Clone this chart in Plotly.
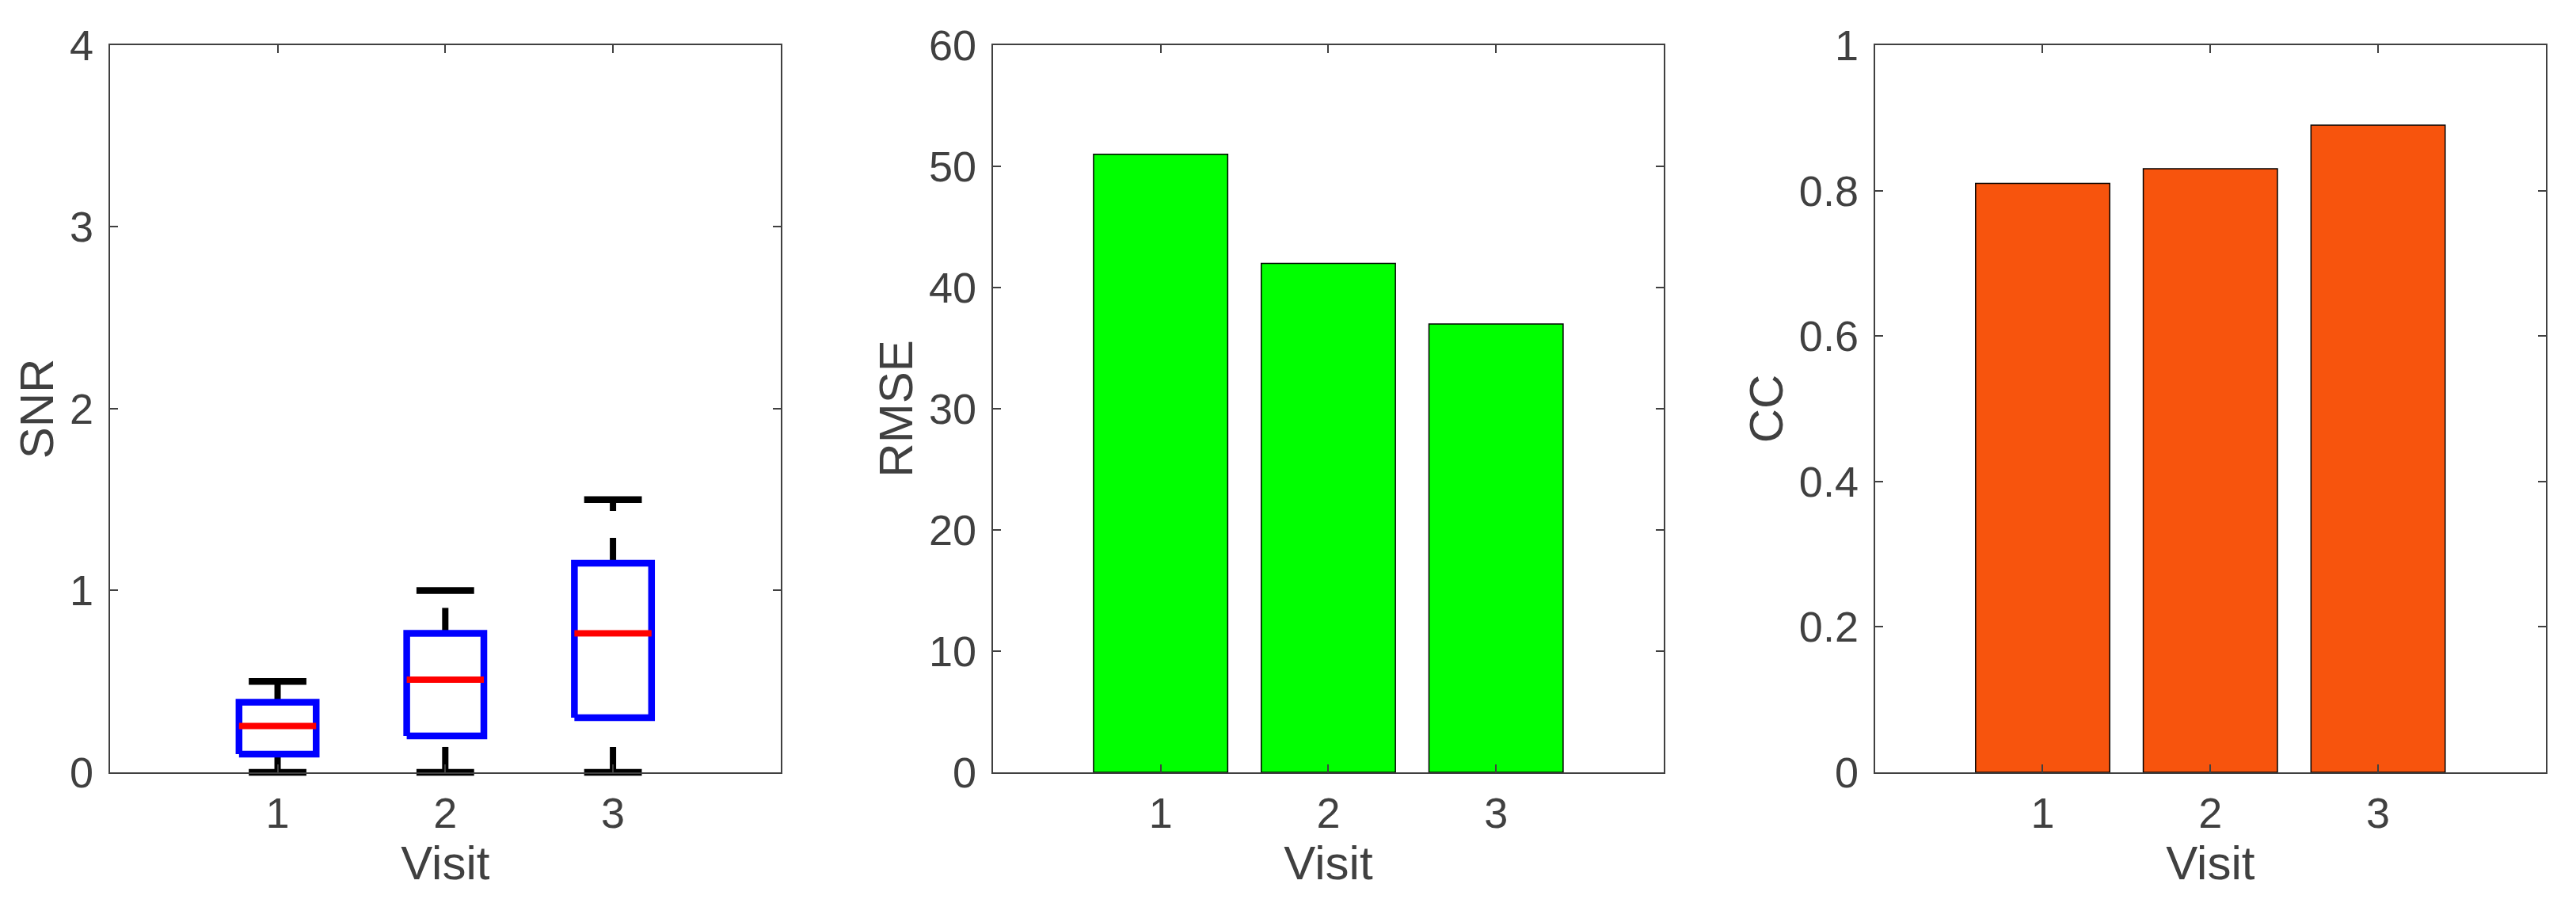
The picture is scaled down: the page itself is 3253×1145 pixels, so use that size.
import plotly.graph_objects as go

visits = [1, 2, 3]

# SNR box statistics per visit
snr_low = [0.0, 0.0, 0.0]
snr_q1 = [0.10, 0.20, 0.30]
snr_median = [0.255, 0.51, 0.765]
snr_q3 = [0.385, 0.765, 1.15]
snr_high = [0.50, 1.00, 1.50]

rmse = [51, 42, 37]
cc = [0.81, 0.83, 0.89]

AXIS_COLOR = "#404040"
FONT = "Liberation Sans, Arial, sans-serif"
BOX_HALF = 0.23


def box_paths(q1, q3, med, half=BOX_HALF):
    bx, by, mx, my = [], [], [], []
    for v, lo, hi, m in zip(visits, q1, q3, med):
        bx += [v - half, v + half, v + half, v - half, v - half, None]
        by += [lo, lo, hi, hi, lo, None]
        mx += [v - half, v + half, None]
        my += [m, m, None]
    return bx, by, mx, my


def whisker_paths(low, q1, q3, high):
    wx, wy = [], []
    for v, a, b, c, d in zip(visits, low, q1, q3, high):
        wx += [v, v, None, v, v, None]
        wy += [a, b, None, c, d, None]
    return wx, wy


fig = go.Figure()

wx, wy = whisker_paths(snr_low, snr_q1, snr_q3, snr_high)
fig.add_trace(go.Scatter(x=wx, y=wy, mode="lines", xaxis="x", yaxis="y",
                         line=dict(color="black", width=8, dash="32px,34px"),
                         hoverinfo="skip"))
fig.add_trace(go.Scatter(x=visits + visits, y=snr_low + snr_high, mode="markers",
                         xaxis="x", yaxis="y", cliponaxis=False,
                         marker=dict(symbol="line-ew", size=52,
                                     line=dict(color="black", width=8.5)),
                         hoverinfo="skip"))
bx, by, mx, my = box_paths(snr_q1, snr_q3, snr_median)
fig.add_trace(go.Scatter(x=bx, y=by, mode="lines", xaxis="x", yaxis="y",
                         line=dict(color="#0000FF", width=8.5)))
fig.add_trace(go.Scatter(x=mx, y=my, mode="lines", xaxis="x", yaxis="y",
                         line=dict(color="#FF0000", width=8)))

fig.add_trace(go.Bar(x=visits, y=rmse, width=0.8, xaxis="x2", yaxis="y2",
                     marker=dict(color="#00FF00", line=dict(color="black", width=1.5))))
fig.add_trace(go.Bar(x=visits, y=cc, width=0.8, xaxis="x3", yaxis="y3",
                     marker=dict(color="#F7540D", line=dict(color="black", width=1.5))))

common = dict(showline=True, linecolor=AXIS_COLOR, linewidth=2, mirror="allticks",
              ticks="inside", ticklen=10, tickwidth=2, tickcolor=AXIS_COLOR,
              showgrid=False, zeroline=False, automargin=False,
              tickfont=dict(family=FONT, size=54, color=AXIS_COLOR))

# page body adds an ~8px offset, domains compensate for it
x_domains = [[0.0402, 0.3006], [0.3830, 0.6434], [0.7254, 0.9858]]
y_domain = [0.1555, 0.9572]
y_titles = ["SNR", "RMSE", "CC"]
y_ranges = [[0, 4], [0, 60], [0, 1]]
y_dticks = [1, 10, 0.2]

layout = dict(width=3253, height=1145, margin=dict(l=0, r=0, t=0, b=0),
              plot_bgcolor="white", paper_bgcolor="white", showlegend=False,
              font=dict(family=FONT, color=AXIS_COLOR))
for i in range(3):
    sfx = "" if i == 0 else str(i + 1)
    layout["xaxis" + sfx] = dict(common, domain=x_domains[i], range=[0, 4],
                                 tickvals=visits, anchor="y" + sfx,
                                 ticklabelstandoff=3,
                                 title=dict(text="Visit", standoff=13,
                                            font=dict(family=FONT, size=60, color=AXIS_COLOR)))
    layout["yaxis" + sfx] = dict(common, domain=y_domain, range=y_ranges[i],
                                 dtick=y_dticks[i], tick0=0, anchor="x" + sfx,
                                 ticklabelstandoff=8,
                                 title=dict(text=y_titles[i], standoff=1,
                                            font=dict(family=FONT, size=60, color=AXIS_COLOR)))

fig.update_layout(**layout)
fig.write_html("out.html")
